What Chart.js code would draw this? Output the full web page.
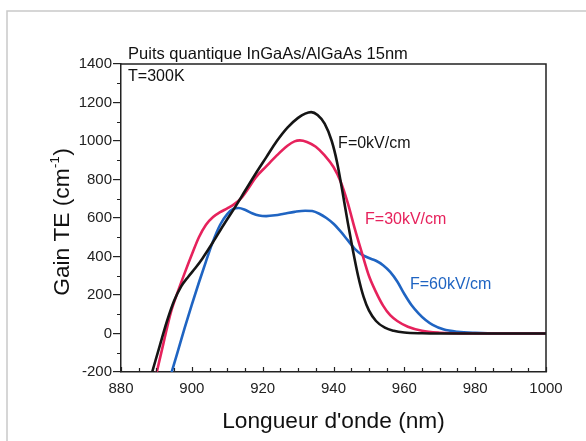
<!DOCTYPE html>
<html>
<head>
<meta charset="utf-8">
<script src="https://cdn.jsdelivr.net/npm/chart.js@4.4.1/dist/chart.umd.min.js"></script>
<style>
html,body{margin:0;padding:0;background:#fff;}
#wrap{width:586px;height:441px;position:relative;}
canvas{display:block;}
</style>
</head>
<body>
<div id="wrap"><canvas id="c" width="586" height="441"></canvas></div>
<script>
// ---- data ----
const wavelengthF0 = [888.8, 891, 893, 895, 897, 899, 901, 903, 906, 909, 912, 915, 918, 921, 924, 927, 930, 932, 933.7, 935.5, 937.5, 939.5, 941, 942.5, 944, 945.5, 947, 948.5, 950, 952, 954.5, 957, 960, 965, 970, 1000];
const gainF0       = [-200, -60, 65, 170, 245, 295, 340, 390, 475, 565, 650, 740, 830, 915, 1000, 1070, 1120, 1142, 1150, 1135, 1090, 1000, 890, 740, 580, 430, 295, 190, 120, 65, 30, 14, 5, 1, 0, 0];

const wavelengthF30 = [890.1, 892, 894, 896, 898, 900, 902, 904, 906, 908, 910, 912, 914, 916, 918, 921, 924, 927, 929, 930.5, 932.5, 935, 937.5, 940, 942, 944, 946, 948, 950, 952, 954, 956, 958, 961, 965, 970, 976, 1000];
const gainF30       = [-200, -50, 105, 215, 315, 410, 500, 565, 605, 630, 650, 672, 705, 755, 810, 868, 925, 975, 998, 1003, 995, 970, 925, 865, 790, 680, 545, 420, 300, 215, 145, 95, 65, 35, 14, 4, 0, 0];

const wavelengthF60 = [894.3, 896, 898, 900, 902, 904, 906, 908, 910, 911.8, 913.2, 915, 917, 919, 921, 923.5, 926, 929, 932, 934, 936, 938, 940, 942, 944, 946, 948, 950, 952, 954, 956, 958, 960, 962, 964, 966, 968, 971, 975, 980, 987, 1000];
const gainF60       = [-200, -95, 30, 150, 265, 375, 480, 565, 620, 648, 652, 643, 625, 613, 610, 614, 622, 632, 638, 636, 622, 600, 570, 530, 485, 440, 410, 392, 378, 355, 320, 270, 205, 148, 105, 70, 45, 22, 9, 3, 0, 0];

const seriesLabels = ['F=0kV/cm', 'F=30kV/cm', 'F=60kV/cm'];
const xTickValues = [880, 900, 920, 940, 960, 980, 1000];
const yTickValues = [-200, 0, 200, 400, 600, 800, 1000, 1200, 1400];
const chartTitle = 'Puits quantique InGaAs/AlGaAs 15nm';
const tempLabel = 'T=300K';
const xTitle = "Longueur d'onde (nm)";
const yTitleMain = 'Gain TE (cm';
const yTitleSup = '-1';
const yTitleEnd = ')';

// ---- styling ----
const COLORS = ['#151515', '#e6225c', '#1f64c2'];
const FONT = '"Liberation Sans", Arial, Helvetica, sans-serif';
const AXIS = '#222';

function toXY(xs, ys){ return xs.map((x,i)=>({x:x, y:ys[i]})); }

// annotation anchors in data coordinates
const annotations = [
  {text: chartTitle, x: 882, y: 1428, color: '#111', size: 16.5},
  {text: tempLabel, x: 882, y: 1311, color: '#111', size: 16},
  {text: seriesLabels[0], x: 941.3, y: 963, color: COLORS[0], size: 16},
  {text: seriesLabels[1], x: 948.9, y: 569, color: COLORS[1], size: 16},
  {text: seriesLabels[2], x: 961.6, y: 232, color: COLORS[2], size: 16}
];

const decor = {
  id: 'decor',
  beforeDraw(chart){
    const ctx = chart.ctx;
    ctx.save();
    ctx.strokeStyle = '#c9c9c9';
    ctx.lineWidth = 1.5;
    ctx.beginPath();
    ctx.moveTo(7, 441); ctx.lineTo(7, 11); ctx.lineTo(586, 11);
    ctx.stroke();
    ctx.restore();
  },
  afterDraw(chart){
    const ctx = chart.ctx;
    const a = chart.chartArea;
    const xs = chart.scales.x, ys = chart.scales.y;
    ctx.save();
    // frame (top + right)
    ctx.strokeStyle = AXIS;
    ctx.lineWidth = 1.5;
    ctx.beginPath();
    ctx.moveTo(a.left, a.top); ctx.lineTo(a.right, a.top); ctx.lineTo(a.right, a.bottom);
    ctx.stroke();
    // x ticks (inward), every 5 nm
    ctx.lineWidth = 1.2;
    ctx.beginPath();
    for (let v = xs.min; v <= xs.max + 0.001; v += 5) {
      const px = Math.round(xs.getPixelForValue(v)) + 0.5;
      const len = (Math.round(v) % 20 === 0) ? 5 : 4;
      ctx.moveTo(px, a.bottom); ctx.lineTo(px, a.bottom - len);
    }
    ctx.stroke();
    // y minor ticks (outward), every 100
    ctx.beginPath();
    for (let v = ys.min + 100; v < ys.max; v += 200) {
      const py = Math.round(ys.getPixelForValue(v)) + 0.5;
      ctx.moveTo(a.left, py); ctx.lineTo(a.left - 4, py);
    }
    ctx.stroke();
    // annotations
    ctx.textBaseline = 'alphabetic';
    ctx.textAlign = 'left';
    annotations.forEach(t => {
      ctx.fillStyle = t.color;
      ctx.font = t.size + 'px ' + FONT;
      ctx.fillText(t.text, xs.getPixelForValue(t.x), ys.getPixelForValue(t.y));
    });
    // x title
    ctx.fillStyle = '#111';
    ctx.font = '22.7px ' + FONT;
    ctx.textAlign = 'center';
    ctx.fillText(xTitle, (a.left + a.right) / 2, 428);
    // y title (rotated, with superscript)
    ctx.font = '22.7px ' + FONT;
    const w1 = ctx.measureText(yTitleMain).width;
    const w3 = ctx.measureText(yTitleEnd).width;
    ctx.font = '13px ' + FONT;
    const w2 = ctx.measureText(yTitleSup).width;
    const total = w1 + w2 + w3 + 1;
    ctx.translate(68.5, 222);
    ctx.rotate(-Math.PI / 2);
    ctx.textAlign = 'left';
    let x0 = -total / 2;
    ctx.font = '22.7px ' + FONT;
    ctx.fillText(yTitleMain, x0, 0);
    ctx.font = '13px ' + FONT;
    ctx.fillText(yTitleSup, x0 + w1 + 0.5, -10);
    ctx.font = '22.7px ' + FONT;
    ctx.fillText(yTitleEnd, x0 + w1 + w2 + 1, 0);
    ctx.restore();
  }
};

const datasets = [
  {label: seriesLabels[2], data: toXY(wavelengthF60, gainF60), borderColor: COLORS[2], order: 3},
  {label: seriesLabels[1], data: toXY(wavelengthF30, gainF30), borderColor: COLORS[1], order: 2},
  {label: seriesLabels[0], data: toXY(wavelengthF0, gainF0), borderColor: COLORS[0], order: 1}
].map(d => Object.assign(d, {
  borderWidth: 2.6,
  pointRadius: 0,
  fill: false,
  cubicInterpolationMode: 'monotone'
}));

const plainTick = v => String(v);

new Chart(document.getElementById('c'), {
  type: 'line',
  data: { datasets: datasets },
  options: {
    responsive: false,
    animation: false,
    devicePixelRatio: 1,
    layout: { padding: { left: 0, top: 64, right: 40, bottom: 0 } },
    plugins: { legend: { display: false }, tooltip: { enabled: false }, title: { display: false } },
    scales: {
      x: {
        type: 'linear',
        min: 880, max: 1000,
        afterBuildTicks: s => { s.ticks = xTickValues.map(v => ({value: v})); },
        afterFit: s => { s.height = 69; },
        ticks: { font: { family: FONT, size: 15 }, color: AXIS, padding: 8, maxRotation: 0, autoSkip: false, callback: plainTick },
        grid: { drawOnChartArea: false, drawTicks: false, color: 'rgba(0,0,0,0)' },
        border: { display: true, color: AXIS, width: 1.5 }
      },
      y: {
        type: 'linear',
        min: -200, max: 1400,
        afterBuildTicks: s => { s.ticks = yTickValues.map(v => ({value: v})); },
        afterFit: s => { s.width = 121; },
        ticks: { font: { family: FONT, size: 15 }, color: AXIS, padding: 1, autoSkip: false, callback: plainTick },
        grid: { drawOnChartArea: false, drawTicks: true, tickLength: 8, color: AXIS, lineWidth: 1.2 },
        border: { display: true, color: AXIS, width: 1.5 }
      }
    }
  },
  plugins: [decor]
});
</script>
</body>
</html>
